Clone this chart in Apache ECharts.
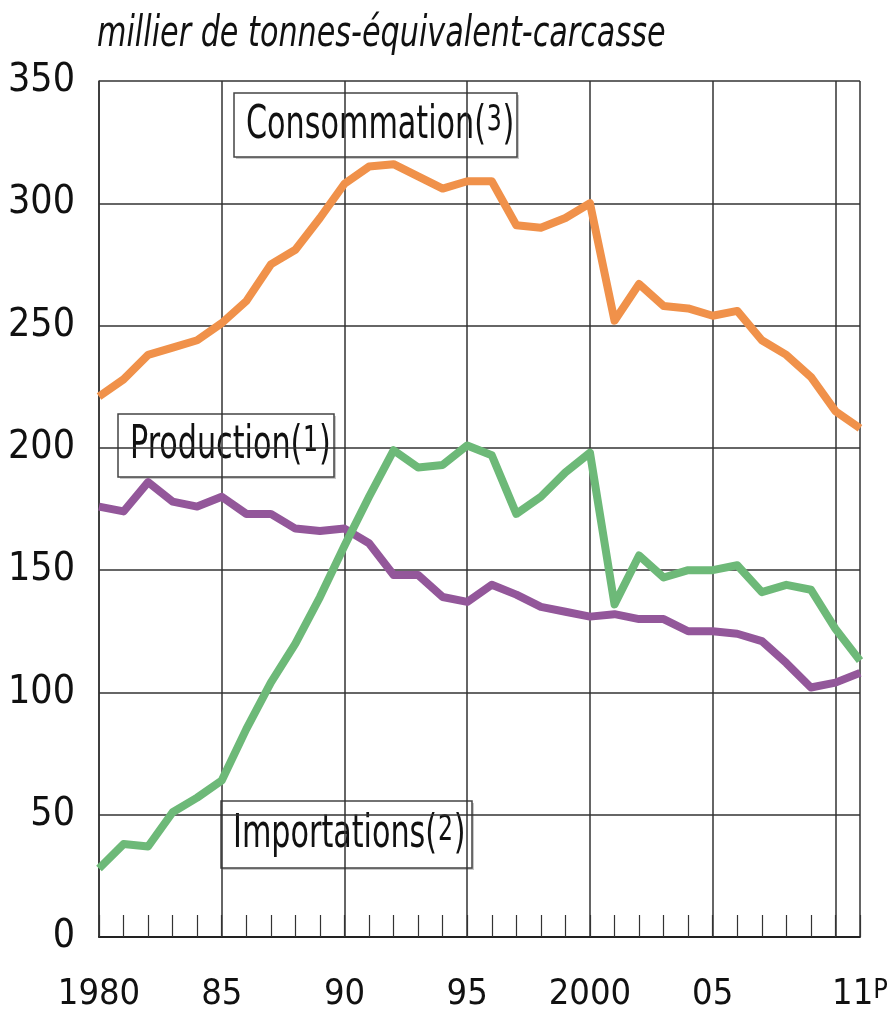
<!DOCTYPE html>
<html>
<head>
<meta charset="utf-8">
<script src="https://cdn.jsdelivr.net/npm/echarts@6/dist/echarts.min.js"></script>
<style>
  html, body { margin: 0; padding: 0; background: #fff; }
  #chart { width: 887px; height: 1021px; }
</style>
</head>
<body>
<div id="chart"></div>
<script>
// years 1980 .. 2011 (2011 = provisoire)
var years = [1980, 1981, 1982, 1983, 1984, 1985, 1986, 1987, 1988, 1989,
             1990, 1991, 1992, 1993, 1994, 1995, 1996, 1997, 1998, 1999,
             2000, 2001, 2002, 2003, 2004, 2005, 2006, 2007, 2008, 2009,
             2010, 2011];

// millier de tonnes-équivalent-carcasse
var consommation = [221, 228, 238, 241, 244, 251, 260, 275, 281, 294,
                    308, 315, 316, 311, 306, 309, 309, 291, 290, 294,
                    300, 252, 267, 258, 257, 254, 256, 244, 238, 229,
                    215, 208];
var production = [176, 174, 186, 178, 176, 180, 173, 173, 167, 166,
                  167, 161, 148, 148, 139, 137, 144, 140, 135, 133,
                  131, 132, 130, 130, 125, 125, 124, 121, 112, 102,
                  104, 108];
var importations = [28, 38, 37, 51, 57, 64, 85, 104, 120, 139,
                    160, 180, 199, 192, 193, 201, 197, 173, 180, 190,
                    198, 136, 156, 147, 150, 150, 152, 141, 144, 142,
                    126, 113];

var yTicks = [0, 50, 100, 150, 200, 250, 300, 350];

var FONT = "'DejaVu Sans Condensed', 'Liberation Sans', sans-serif";

function pairs(vals) {
  return years.map(function(y, i) { return [y, vals[i]]; });
}

// grandes graduations : 1980, 85, 90, 95, 2000, 05 (2010 sans libellé)
function yearLabel(v) {
  if (v === 1980 || v === 2000) return String(v);
  if (v === 2010 || v === 2011) return '';
  return String(v).slice(2);
}

// encadré texte + renvoi de note
function boxLabel(x, y, w, h, name, idx) {
  return {
    type: 'group',
    children: [
      { type: 'rect', shape: { x: x + 2, y: y + 2, width: w, height: h },
        style: { fill: '#c8c8c8' } },
      { type: 'rect', shape: { x: x, y: y, width: w, height: h },
        style: { fill: '#fff', stroke: '#444', lineWidth: 1.5 } },
      { type: 'text', x: x + 12, y: y + h / 2 + 1, scaleX: 0.73,
        style: {
          text: '{a|' + name + '(}{b|' + idx + '}{a|)}',
          verticalAlign: 'middle',
          rich: {
            a: { fontFamily: FONT, fontSize: 46, fill: '#111', verticalAlign: 'bottom' },
            b: { fontFamily: FONT, fontSize: 36, fill: '#111', verticalAlign: 'top', padding: [0, 1, 0, 1] }
          }
        } }
    ]
  };
}

var chart = echarts.init(document.getElementById('chart'));

var option = {
  animation: false,
  backgroundColor: '#fff',
  grid: { left: 99, right: 27, top: 81, bottom: 84, outerBoundsMode: 'none', containLabel: false },
  xAxis: [
    {
      type: 'value', min: 1980, max: 2011, interval: 5,
      axisLine: { show: true, lineStyle: { color: '#222', width: 2 } },
      axisTick: { show: false },
      splitLine: { show: true, lineStyle: { color: '#333', width: 1.5 } },
      axisLabel: {
        margin: 40, color: '#111', fontFamily: FONT, fontSize: 36,
        showMinLabel: true, showMaxLabel: true,
        formatter: yearLabel
      }
    },
    {
      // tiretés annuels + libellé de la dernière année
      type: 'value', min: 1980, max: 2011, interval: 1, position: 'bottom',
      axisLine: { show: false },
      axisTick: { show: true, inside: true, length: 22, lineStyle: { color: '#333', width: 1.2 } },
      splitLine: { show: false },
      axisLabel: {
        show: true, margin: 40, showMaxLabel: true,
        formatter: function(v) { return v === 2011 ? '{n|11}{p|P}' : ''; },
        rich: {
          n: { fontFamily: FONT, fontSize: 36, color: '#111' },
          p: { fontFamily: FONT, fontSize: 27, color: '#111', verticalAlign: 'top' }
        }
      }
    }
  ],
  yAxis: {
    type: 'value', min: 0, max: 350, interval: 50,
    axisLine: { show: true, lineStyle: { color: '#333', width: 1.5 } },
    axisTick: { show: false },
    splitLine: { show: true, lineStyle: { color: '#333', width: 1.5 } },
    axisLabel: {
      margin: 24, color: '#111', fontFamily: FONT, fontSize: 39,
      formatter: function(v) { return yTicks.indexOf(v) >= 0 ? String(v) : ''; }
    }
  },
  graphic: [
    { type: 'text', x: 97, y: 35, scaleX: 0.8,
      style: { text: 'millier de tonnes-équivalent-carcasse', fontFamily: FONT,
               fontStyle: 'italic', fontSize: 42, fill: '#111', verticalAlign: 'middle' } },
    boxLabel(234, 93, 283, 64, 'Consommation', 3),
    boxLabel(118, 414, 216, 63, 'Production', 1),
    boxLabel(221, 801, 251, 67, 'Importations', 2)
  ],
  series: [
    { name: 'Consommation', type: 'line', data: pairs(consommation), symbol: 'none',
      lineStyle: { color: '#F0914A', width: 8, join: 'round' }, z: 3 },
    { name: 'Production', type: 'line', data: pairs(production), symbol: 'none',
      lineStyle: { color: '#93579A', width: 8, join: 'round' }, z: 4 },
    { name: 'Importations', type: 'line', data: pairs(importations), symbol: 'none',
      lineStyle: { color: '#6DB978', width: 8, join: 'round' }, z: 5 }
  ]
};

chart.setOption(option);
</script>
</body>
</html>
